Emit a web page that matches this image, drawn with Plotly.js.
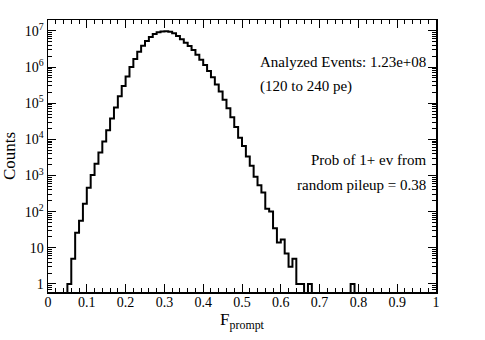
<!DOCTYPE html>
<html>
<head>
<meta charset="utf-8">
<script src="https://cdn.plot.ly/plotly-3.0.1.min.js"></script>
<style>html,body{margin:0;padding:0;background:#fff;}#chart{width:485px;height:340px;}</style>
</head>
<body>
<div id="chart"></div>
<script>
// Histogram bins: F_prompt from 0 to 1, bin width 0.01
const binStart = 0.0;
const binWidth = 0.01;
// Counts per bin (100 bins)
const counts = [
  0, 0, 0, 0, 0,                                   // 0.00-0.05
  1, 5, 26, 56, 165,                               // 0.05-0.10
  455, 1030, 2100, 4300, 8700,                     // 0.10-0.15
  17800, 38000, 76000, 156000, 300000,             // 0.15-0.20
  550000, 1000000, 1660000, 2640000, 3850000,      // 0.20-0.25
  5270000, 6800000, 8200000, 9200000, 9600000,     // 0.25-0.30
  9800000, 9500000, 8600000, 7200000, 5900000,     // 0.30-0.35
  4700000, 3800000, 2950000, 2200000, 1600000,     // 0.35-0.40
  1140000, 780000, 520000, 330000, 210000,         // 0.40-0.45
  125000, 73000, 41000, 22000, 11000,              // 0.45-0.50
  6600, 3330, 1870, 930, 535,                      // 0.50-0.55
  337, 120, 101, 35, 14,                           // 0.55-0.60
  17, 7, 3, 5, 1,                                  // 0.60-0.65
  1, 0, 1, 0, 0,                                   // 0.65-0.70
  0, 0, 0, 0, 0,                                   // 0.70-0.75
  0, 0, 0, 1, 0,                                   // 0.75-0.80
  0, 0, 0, 0, 0,                                   // 0.80-0.85
  0, 0, 0, 0, 0,                                   // 0.85-0.90
  0, 0, 0, 0, 0,                                   // 0.90-0.95
  0, 0, 0, 0, 0                                    // 0.95-1.00
];
const xTickVals = [0, 0.1, 0.2, 0.3, 0.4, 0.5, 0.6, 0.7, 0.8, 0.9, 1];
const xTickText = ["0", "0.1", "0.2", "0.3", "0.4", "0.5", "0.6", "0.7", "0.8", "0.9", "1"];
const yTickVals = [1, 10, 100, 1e3, 1e4, 1e5, 1e6, 1e7];
const yTickText = ["1", "10", "10<sup>2</sup>", "10<sup>3</sup>", "10<sup>4</sup>", "10<sup>5</sup>", "10<sup>6</sup>", "10<sup>7</sup>"];
const notes = [
  "Analyzed Events: 1.23e+08",
  "(120 to 240 pe)",
  "Prob of 1+ ev from",
  "random pileup = 0.38"
];

// Build step outline from bins (zero bins drawn below the axis floor, clipped)
const floorVal = 0.1;
const xs = [], ys = [];
for (let i = 0; i < counts.length; i++) {
  xs.push(binStart + i * binWidth);
  ys.push(counts[i] > 0 ? counts[i] : floorVal);
}
xs.push(binStart + counts.length * binWidth);
ys.push(ys[ys.length - 1]);

// minor tick positions
const xMinor = [];
for (let i = 0; i <= 50; i++) xMinor.push(+(i * 0.02).toFixed(2));
const yMinor = [];
for (let e = -1; e <= 7; e++) for (let d = 2; d <= 9; d++) yMinor.push(d * Math.pow(10, e));

const serif = "Liberation Serif";

const trace = {
  x: xs, y: ys, type: "scatter", mode: "lines",
  line: {shape: "hv", color: "#000", width: 2},
  hoverinfo: "skip"
};

const layout = {
  width: 485, height: 340,
  margin: {l: 48, r: 49, t: 20, b: 48},
  paper_bgcolor: "#fff", plot_bgcolor: "#fff",
  showlegend: false,
  font: {family: serif, color: "#000", size: 14},
  xaxis: {
    range: [0, 1], showgrid: false, zeroline: false,
    showline: true, linecolor: "#000", linewidth: 1.5, mirror: "ticks",
    tickmode: "array", tickvals: xTickVals, ticktext: xTickText,
    ticks: "inside", ticklen: 8, tickwidth: 1, tickcolor: "#000",
    ticklabelstandoff: -3,
    minor: {tickmode: "array", tickvals: xMinor, ticks: "inside", ticklen: 4, tickwidth: 1, tickcolor: "#000", showgrid: false},
    tickfont: {family: serif, size: 14},
    title: {text: "F<sub>prompt</sub>", font: {family: serif, size: 17}, standoff: 0}
  },
  yaxis: {
    type: "log", range: [Math.log10(0.6), Math.log10(2e7)],
    showgrid: false, zeroline: false,
    showline: true, linecolor: "#000", linewidth: 1.5, mirror: "ticks",
    tickmode: "array", tickvals: yTickVals, ticktext: yTickText,
    ticks: "inside", ticklen: 8, tickwidth: 1, tickcolor: "#000",
    minor: {tickmode: "array", tickvals: yMinor, ticks: "inside", ticklen: 4, tickwidth: 1, tickcolor: "#000", showgrid: false},
    tickfont: {family: serif, size: 14},
    title: {text: "Counts", font: {family: serif, size: 17}, standoff: 5}
  },
  annotations: [
    {xref: "paper", yref: "paper", x: 0.541, y: 0.846, xanchor: "left", yanchor: "middle", text: notes[0], showarrow: false, font: {family: serif, size: 15}},
    {xref: "paper", yref: "paper", x: 0.541, y: 0.754, xanchor: "left", yanchor: "middle", text: notes[1], showarrow: false, font: {family: serif, size: 15}},
    {xref: "paper", yref: "paper", x: 0.979, y: 0.485, xanchor: "right", yanchor: "middle", text: notes[2], showarrow: false, font: {family: serif, size: 15}},
    {xref: "paper", yref: "paper", x: 0.979, y: 0.393, xanchor: "right", yanchor: "middle", text: notes[3], showarrow: false, font: {family: serif, size: 15}}
  ]
};

Plotly.newPlot("chart", [trace], layout, {staticPlot: true, displayModeBar: false});
</script>
</body>
</html>
